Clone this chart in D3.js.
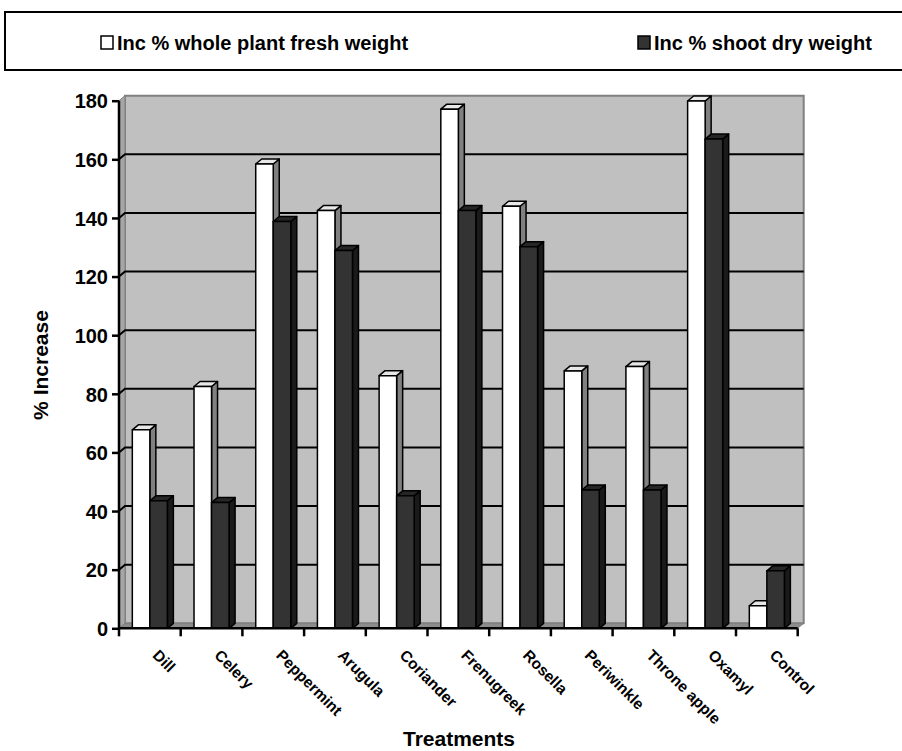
<!DOCTYPE html>
<html>
<head>
  <meta charset="utf-8">
  <title>% Increase by treatment</title>
  <script src="https://d3js.org/d3.v7.min.js"></script>
  <style>
    body { margin: 0; background: #fff; }
    text { font-family: "Liberation Sans", Arial, sans-serif; font-weight: bold; fill: #000; }
  </style>
</head>
<body>
<script>
  const width = 902;
  const height = 751;

  const categories = ["Dill", "Celery", "Peppermint", "Arugula", "Coriander", "Frenugreek",
                      "Rosella", "Periwinkle", "Throne apple", "Oxamyl", "Control"];
  const seriesNames = ["Inc % whole plant fresh weight", "Inc % shoot dry weight"];
  const freshWeight = [67.7, 82.5, 158.4, 142.5, 86.2, 177.1, 144, 87.8, 89.3, 179.9, 7.7];
  const dryWeight = [43.5, 42.9, 138.8, 128.9, 45.2, 142.5, 130.2, 47.2, 47.2, 166.9, 19.6];
  const yTicks = [0, 20, 40, 60, 80, 100, 120, 140, 160, 180];

  // 3d depth offset
  const dx = 6, dy = -5;

  const svg = d3.select("body")
    .append("svg")
    .attr("width", width)
    .attr("height", height);

  const x0 = d3.scaleBand().domain(categories).range([119, 797.7]);
  const x1 = d3.scaleBand().domain([0, 1]).range([0, x0.bandwidth()]).paddingOuter(0.76);
  const y = d3.scaleLinear().domain([0, 180]).range([628.3, 100.7]);

  const left = x0.range()[0], right = x0.range()[1];
  const yTop = y(180), yBase = y(0);

  // walls and floor
  svg.append("polygon")
    .attr("points", [[left + dx, yTop + dy], [right + dx, yTop + dy], [right + dx, yBase + dy], [left + dx, yBase + dy]].join(" "))
    .attr("fill", "#c0c0c0").attr("stroke", "#808080").attr("stroke-width", 2);
  svg.append("polygon")
    .attr("points", [[left, yTop], [left + dx, yTop + dy], [left + dx, yBase + dy], [left, yBase]].join(" "))
    .attr("fill", "#a6a6a6").attr("stroke", "#808080").attr("stroke-width", 1);
  svg.append("polygon")
    .attr("points", [[left, yBase], [left + dx, yBase + dy], [right + dx, yBase + dy], [right, yBase]].join(" "))
    .attr("fill", "#8c8c8c").attr("stroke", "#808080").attr("stroke-width", 1);

  // gridlines on the back wall
  svg.append("g").selectAll("path")
    .data(yTicks.filter(d => d > 0 && d < 180))
    .join("path")
    .attr("d", d => `M${left},${y(d)}L${left + dx},${y(d) + dy}L${right + dx},${y(d) + dy}`)
    .attr("fill", "none").attr("stroke", "#000").attr("stroke-width", 2);

  // bars
  const colors = [
    {front: "#ffffff", side: "#808080", top: "#e8e8e8"},
    {front: "#333333", side: "#1a1a1a", top: "#262626"}
  ];
  const rows = [];
  categories.forEach((c, i) => {
    rows.push({cat: c, s: 0, v: freshWeight[i]});
    rows.push({cat: c, s: 1, v: dryWeight[i]});
  });

  const bar = svg.append("g").selectAll("g")
    .data(rows)
    .join("g")
    .attr("stroke", "#000").attr("stroke-width", 1.5).attr("stroke-linejoin", "round");

  bar.each(function(d) {
    const g = d3.select(this);
    const bx = x0(d.cat) + x1(d.s);
    const w = x1.bandwidth();
    const yt = y(d.v);
    g.append("polygon")
      .attr("points", [[bx + w, yt], [bx + w + dx, yt + dy], [bx + w + dx, yBase + dy], [bx + w, yBase]].join(" "))
      .attr("fill", colors[d.s].side);
    g.append("polygon")
      .attr("points", [[bx, yt], [bx + dx, yt + dy], [bx + w + dx, yt + dy], [bx + w, yt]].join(" "))
      .attr("fill", colors[d.s].top);
    g.append("rect")
      .attr("x", bx).attr("y", yt)
      .attr("width", w).attr("height", yBase - yt)
      .attr("fill", colors[d.s].front);
  });

  // axes
  const yAxis = svg.append("g")
    .attr("transform", `translate(${left},0)`)
    .call(d3.axisLeft(y).tickValues(yTicks).tickSize(7).tickPadding(4));
  yAxis.select(".domain").attr("stroke-width", 2.5).attr("d", `M0,${yTop}V${yBase}`);
  yAxis.selectAll(".tick line").attr("stroke-width", 2.5);
  yAxis.selectAll(".tick text").style("font-size", "20px").style("font-family", "Liberation Sans, Arial, sans-serif").style("font-weight", "bold").attr("dy", "0.36em");

  const xAxis = svg.append("g")
    .attr("transform", `translate(0,${yBase})`);
  xAxis.append("path")
    .attr("d", `M${left},0H${right}`)
    .attr("stroke", "#000").attr("stroke-width", 2.5);
  xAxis.selectAll("line.tk")
    .data(categories.concat(["end"]))
    .join("line")
    .attr("class", "tk")
    .attr("x1", d => d === "end" ? right : x0(d))
    .attr("x2", d => d === "end" ? right : x0(d))
    .attr("y1", 0).attr("y2", 8)
    .attr("stroke", "#000").attr("stroke-width", 2.5);
  xAxis.selectAll("text")
    .data(categories)
    .join("text")
    .attr("transform", d => `translate(${x0(d) + x0.bandwidth() / 2 + 2},${28}) rotate(45)`)
    .style("font-size", "15.5px")
    .text(d => d);

  // axis titles
  svg.append("text")
    .attr("transform", `translate(48,365) rotate(-90)`)
    .attr("text-anchor", "middle")
    .style("font-size", "21px")
    .text("% Increase");
  svg.append("text")
    .attr("x", 459).attr("y", 746)
    .attr("text-anchor", "middle")
    .style("font-size", "21px")
    .text("Treatments");

  // legend
  const legend = svg.append("g");
  legend.append("rect")
    .attr("x", 5).attr("y", 12).attr("width", 920).attr("height", 58)
    .attr("fill", "#fff").attr("stroke", "#000").attr("stroke-width", 2);
  const legendX = [101, 638];
  const li = legend.selectAll("g.item")
    .data(seriesNames)
    .join("g")
    .attr("class", "item")
    .attr("transform", (d, i) => `translate(${legendX[i]},0)`);
  li.append("rect")
    .attr("x", 0).attr("y", 36).attr("width", 12).attr("height", 13)
    .attr("fill", (d, i) => colors[i].front)
    .attr("stroke", "#000").attr("stroke-width", 1.5);
  li.append("text")
    .attr("x", 16).attr("y", 50)
    .style("font-size", "20px")
    .text(d => d);
</script>
</body>
</html>
